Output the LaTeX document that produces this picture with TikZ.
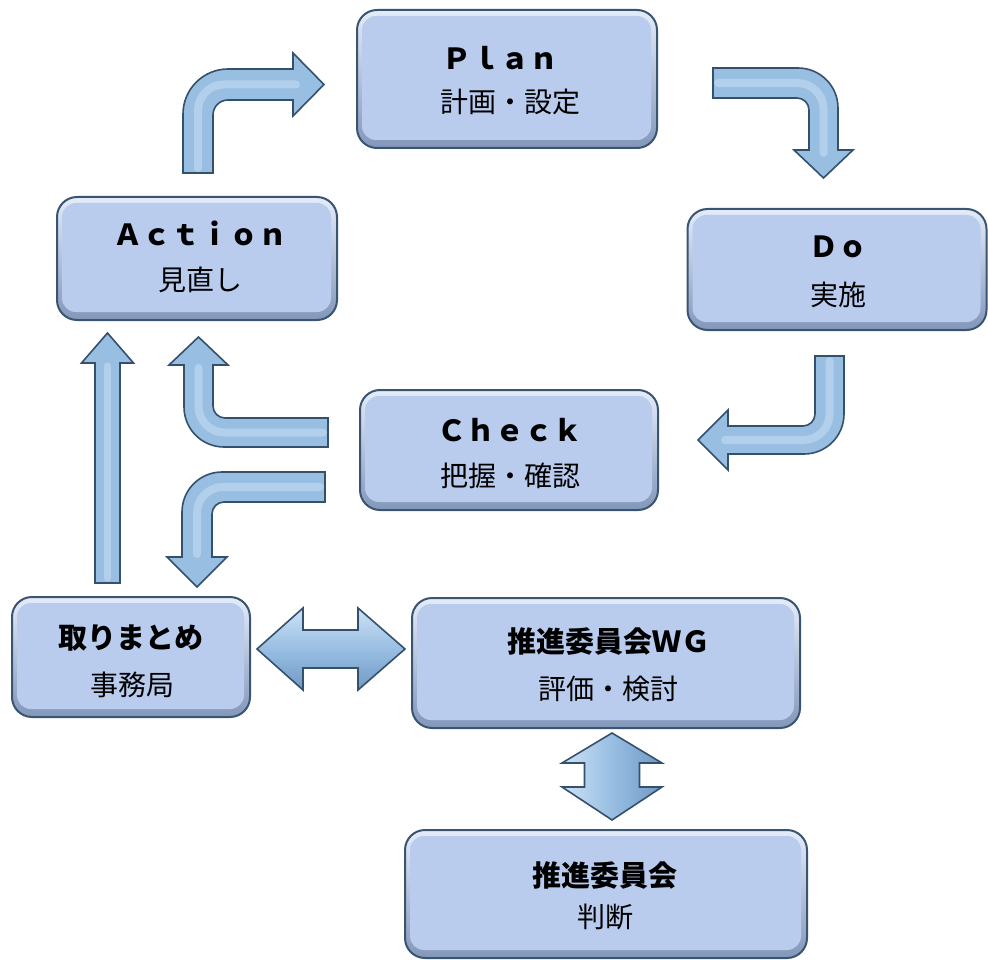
\documentclass[tikz,border=0pt]{standalone}
\usepackage{fontspec}
\setmainfont{Noto Sans CJK JP}
\usetikzlibrary{calc}

\definecolor{boxfill}{HTML}{B9CCEE}
\definecolor{boxtop}{HTML}{E4ECF9}
\definecolor{boxbot}{HTML}{8397BA}
\definecolor{boxedge}{HTML}{3A5572}
\definecolor{arrowfill}{HTML}{98BEE2}
\definecolor{arrowlight}{HTML}{CDE2F5}
\definecolor{arrowdark}{HTML}{7099C4}
\definecolor{arrowedge}{HTML}{34506D}

\tikzset{
  panel/.style={rounded corners=20, draw=boxedge, line width=2,
    top color=boxtop, bottom color=boxbot, inner sep=0pt,
    path picture={\fill[boxfill, rounded corners=14]
      ([shift={(5pt,-6pt)}]path picture bounding box.north west) rectangle
      ([shift={(-6pt,8pt)}]path picture bounding box.south east);}},
  ttl/.style={font=\fontsize{29}{32}\selectfont\bfseries, inner sep=0pt},
  sub/.style={font=\fontsize{28}{32}\selectfont, inner sep=0pt},
  blockarrow/.style={fill=arrowfill, draw=arrowedge, line width=1.6, line join=miter},
  tube/.style={draw=arrowlight, line width=8, line cap=round, opacity=0.5},
}

\begin{document}
\begin{tikzpicture}[x=1pt, y=-1pt]
\useasboundingbox (0,0) rectangle (988,960);

% ---- boxes ----
\node[panel, minimum width=300, minimum height=138] (plan)   at (507,79)    {};
\node[panel, minimum width=280, minimum height=123] (action) at (197,258.5) {};
\node[panel, minimum width=299, minimum height=121] (do)     at (837,269.5) {};
\node[panel, minimum width=298, minimum height=120] (check)  at (509,450)   {};
\node[panel, minimum width=238, minimum height=120] (matome) at (131,657)   {};
\node[panel, minimum width=388, minimum height=130] (wg)     at (606,663)   {};
\node[panel, minimum width=402, minimum height=128] (iinkai) at (606,894)   {};

% ---- labels ----
\node[ttl] (plan-t)   at (500,58)  {Ｐｌａｎ};
\node[sub] (plan-s)   at (510,102) {計画・設定};
\node[ttl] (action-t) at (200,233) {Ａｃｔｉｏｎ};
\node[sub] (action-s) at (200,280) {見直し};
\node[ttl] (do-t)     at (838,247) {Ｄｏ};
\node[sub] (do-s)     at (838,295) {実施};
\node[ttl] (check-t)  at (510,430) {Ｃｈｅｃｋ};
\node[sub] (check-s)  at (510,476) {把握・確認};
\node[ttl] (matome-t) at (131,638) {取りまとめ};
\node[sub] (matome-s) at (132,685) {事務局};
\node[ttl] (wg-t)     at (609,641) {推進委員会ＷＧ};
\node[sub] (wg-s)     at (608,689) {評価・検討};
\node[ttl] (iinkai-t) at (605,875) {推進委員会};
\node[sub] (iinkai-s) at (605,917) {判断};

% ---- block arrows ----
% Action -> Plan
\draw[blockarrow] (183,173) -- (183,114) .. controls (183,89.2) and (203.2,69) .. (228,69)
  -- (293,69) -- (293,53) -- (324,84.5) -- (293,116) -- (293,100) -- (228,100)
  .. controls (219.7,100) and (213,106.7) .. (213,115) -- (213,173) -- cycle;
\draw[tube, rounded corners=26] (198,168) |- (296,84.5);

% Plan -> Do
\draw[blockarrow] (713,68) -- (798,68) .. controls (820.1,68) and (838,85.9) .. (838,108)
  -- (838,150) -- (853,150) -- (823.5,178) -- (794,150) -- (809,150) -- (809,110)
  .. controls (809,103.4) and (803.6,98) .. (797,98) -- (713,98) -- cycle;
\draw[tube, rounded corners=26] (718,83) -| (823.5,153);

% Do -> Check
\draw[blockarrow] (815,356) -- (844,356) -- (844,414) .. controls (844,436.1) and (826.1,454) .. (804,454)
  -- (728,454) -- (728,470) -- (698,440) -- (728,410) -- (728,426) -- (803,426)
  .. controls (809.6,426) and (815,420.6) .. (815,414) -- cycle;
\draw[tube, rounded corners=26] (829.5,361) |- (725,440);

% Check -> Action
\draw[blockarrow] (328,418) -- (225,418) .. controls (218.4,418) and (213,412.6) .. (213,406)
  -- (213,365) -- (228,365) -- (198.5,337) -- (169,365) -- (184,365) -- (184,407)
  .. controls (184,429.1) and (201.9,447) .. (224,447) -- (328,447) -- cycle;
\draw[tube, rounded corners=26] (323,432.5) -| (198.5,368);

% Check -> matome
\draw[blockarrow] (325,472) -- (222,472) .. controls (199.9,472) and (182,489.9) .. (182,512)
  -- (182,557) -- (167,557) -- (197,587) -- (227,557) -- (212,557) -- (212,514)
  .. controls (212,507.4) and (217.4,502) .. (224,502) -- (325,502) -- cycle;
\draw[tube, rounded corners=26] (320,487) -| (197,554);

% matome -> Action
\draw[blockarrow] (95,583) -- (95,363) -- (81.5,363) -- (107.5,333) -- (133.5,363)
  -- (120,363) -- (120,583) -- cycle;
\draw[tube, line width=7] (107.5,578) -- (107.5,366);

% matome <-> WG
\draw[blockarrow, top color=arrowlight, bottom color=arrowdark, middle color=arrowfill]
  (257,649) -- (303,608) -- (303,630) -- (358,630) -- (358,608) -- (405,649)
  -- (358,690) -- (358,668) -- (303,668) -- (303,690) -- cycle;

% WG <-> committee
\draw[blockarrow, left color=arrowlight, right color=arrowdark, middle color=arrowfill]
  (612,733) -- (662,763) -- (639.5,763) -- (639.5,787) -- (662,787) -- (612,820)
  -- (562,787) -- (584.5,787) -- (584.5,763) -- (562,763) -- cycle;

\end{tikzpicture}
\end{document}
